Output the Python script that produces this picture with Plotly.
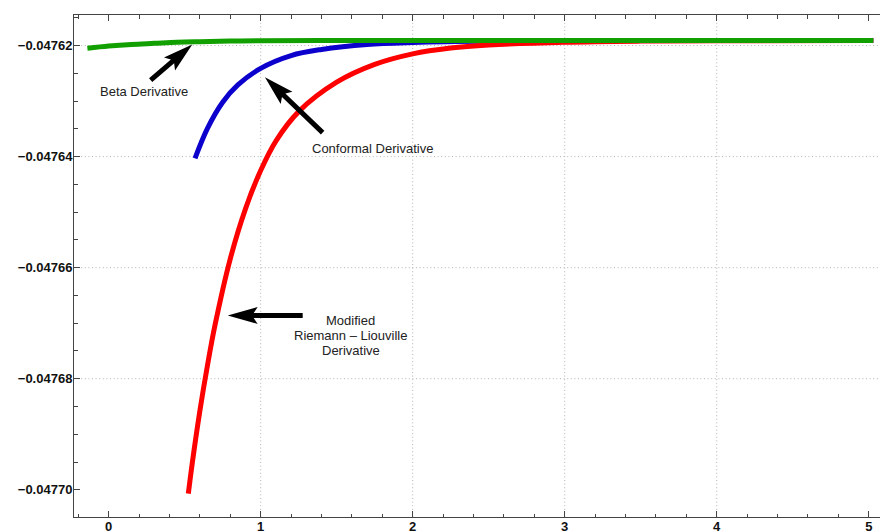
import math
import plotly.graph_objects as go

# ---- data ----
beta_x = [-0.14, 0.0, 0.15, 0.30, 0.45, 0.60, 0.80, 1.00, 1.40, 2.00, 3.00, 4.00, 5.03]
beta_y = [-0.0476205, -0.0476201, -0.0476198, -0.0476196, -0.0476194, -0.0476193,
          -0.0476192, -0.04761915, -0.0476191, -0.0476191, -0.0476191, -0.0476191, -0.0476191]

conf_x = [0.568, 0.65, 0.75, 0.85, 1.0, 1.2, 1.4, 1.7, 2.0, 2.5, 3.0, 4.0, 5.03]
conf_y = [-0.0476403, -0.0476349, -0.0476302, -0.0476271, -0.0476241, -0.0476218,
          -0.0476207, -0.0476198, -0.04761945, -0.0476192, -0.04761914, -0.0476191, -0.0476191]

mrl_x = [0.524, 0.55, 0.60, 0.65, 0.70, 0.80, 0.90, 1.00, 1.10, 1.25, 1.50, 1.75,
         2.00, 2.25, 2.50, 3.00, 3.50, 4.00, 5.03]
mrl_y = [-0.0477007, -0.0476952, -0.0476858, -0.0476776, -0.0476703, -0.0476584,
         -0.0476494, -0.0476425, -0.0476372, -0.0476319, -0.0476266, -0.0476234,
         -0.0476215, -0.04762045, -0.0476199, -0.0476194, -0.0476192, -0.04761914,
         -0.0476191]

x_ticks = [0, 1, 2, 3, 4, 5]
x_tick_labels = ["0", "1", "2", "3", "4", "5"]
y_ticks = [-0.04770, -0.04768, -0.04766, -0.04764, -0.04762]
y_tick_labels = ["\u22120.04770", "\u22120.04768", "\u22120.04766", "\u22120.04764", "\u22120.04762"]

x_grid = [1, 2, 3, 4]
y_grid = [-0.04762, -0.04764, -0.04766, -0.04768]

# annotation labels: (text lines, x, y)
labels = [
    (["Beta Derivative"], 0.233, -0.0476283),
    (["Conformal Derivative"], 1.736, -0.0476385),
    (["Modified", "Riemann \u2013 Liouville", "Derivative"], 1.592, -0.0476722),
]
# arrows: tip in data coords, tail offset in screen pixels (dx right, dy down)
arrows = [
    (0.55, -0.0476198, -41.6, 35.7),
    (1.028, -0.0476257, 57.7, 55.4),
    (0.783, -0.0476686, 75.0, 0.0),
]

fig = go.Figure()
fig.add_trace(go.Scatter(x=conf_x, y=conf_y, mode="lines",
                         line=dict(color="#0c00cc", width=5, shape="spline", smoothing=1.0),
                         name="Conformal Derivative"))
fig.add_trace(go.Scatter(x=mrl_x, y=mrl_y, mode="lines",
                         line=dict(color="#ff0000", width=5, shape="spline", smoothing=1.0),
                         name="Modified Riemann-Liouville Derivative"))
fig.add_trace(go.Scatter(x=beta_x, y=beta_y, mode="lines",
                         line=dict(color="#12a000", width=5, shape="spline", smoothing=1.0),
                         name="Beta Derivative"))

shapes = []
grid_line = dict(color="#b4b4b4", width=1, dash="1px,2.6px")
for gx in x_grid:
    shapes.append(dict(type="line", xref="x", yref="paper", x0=gx, x1=gx, y0=0, y1=1,
                       line=grid_line, layer="below"))
for gy in y_grid:
    shapes.append(dict(type="line", xref="paper", yref="y", x0=0, x1=1, y0=gy, y1=gy,
                       line=grid_line, layer="below"))


def arrow_path(dx, dy, L=30.0, W=17.0, notch=26.0, s=2.5):
    length = math.hypot(dx, dy)
    ux, uy = dx / length, dy / length
    vx, vy = -uy, ux
    local = [(0, 0), (L, W / 2), (notch, s), (length, s), (length, -s),
             (notch, -s), (L, -W / 2)]
    pts = []
    for a, b in local:
        px = a * ux + b * vx
        py = a * uy + b * vy
        pts.append((px, -py))
    return "M" + " L".join(f"{p[0]:.2f},{p[1]:.2f}" for p in pts) + " Z"


for tx, ty, dx, dy in arrows:
    shapes.append(dict(type="path", xref="x", yref="y", xsizemode="pixel", ysizemode="pixel",
                       xanchor=tx, yanchor=ty, path=arrow_path(dx, dy),
                       fillcolor="black", line=dict(width=0)))

annotations = []
for lines, lx, ly in labels:
    n = len(lines)
    for i, t in enumerate(lines):
        annotations.append(dict(x=lx, y=ly, xref="x", yref="y", text=t, showarrow=False,
                                yshift=(n - 1) / 2 * 15 - i * 15,
                                font=dict(family="Liberation Sans", size=13, color="#222222")))

axis_common = dict(showgrid=False, zeroline=False, showline=True, linecolor="#444444",
                   linewidth=1, ticks="inside", tickcolor="#444444", ticklen=6, tickwidth=1,
                   automargin=False,
                   tickfont=dict(family="Liberation Sans", size=13, color="#111111"))

fig.update_layout(
    width=880, height=532,
    margin=dict(l=74, r=0, t=15, b=15, autoexpand=False),
    paper_bgcolor="white", plot_bgcolor="white",
    showlegend=False,
    shapes=shapes, annotations=annotations,
    xaxis=dict(range=[-0.228, 5.074], tickvals=x_ticks,
               ticktext=["<b>" + t + "</b>" for t in x_tick_labels], mirror="ticks",
               ticklabelstandoff=-3,
               minor=dict(dtick=0.2, tick0=0, ticks="inside", ticklen=3.5, tickcolor="#444444"),
               **axis_common),
    yaxis=dict(range=[-0.0477049, -0.0476145], tickvals=y_ticks,
               ticktext=["<b>" + t + "</b>" for t in y_tick_labels],
               ticklabelstandoff=-2,
               minor=dict(dtick=0.000005, tick0=0, ticks="inside", ticklen=3.5, tickcolor="#444444"),
               **axis_common),
)

fig.write_html("out.html")
